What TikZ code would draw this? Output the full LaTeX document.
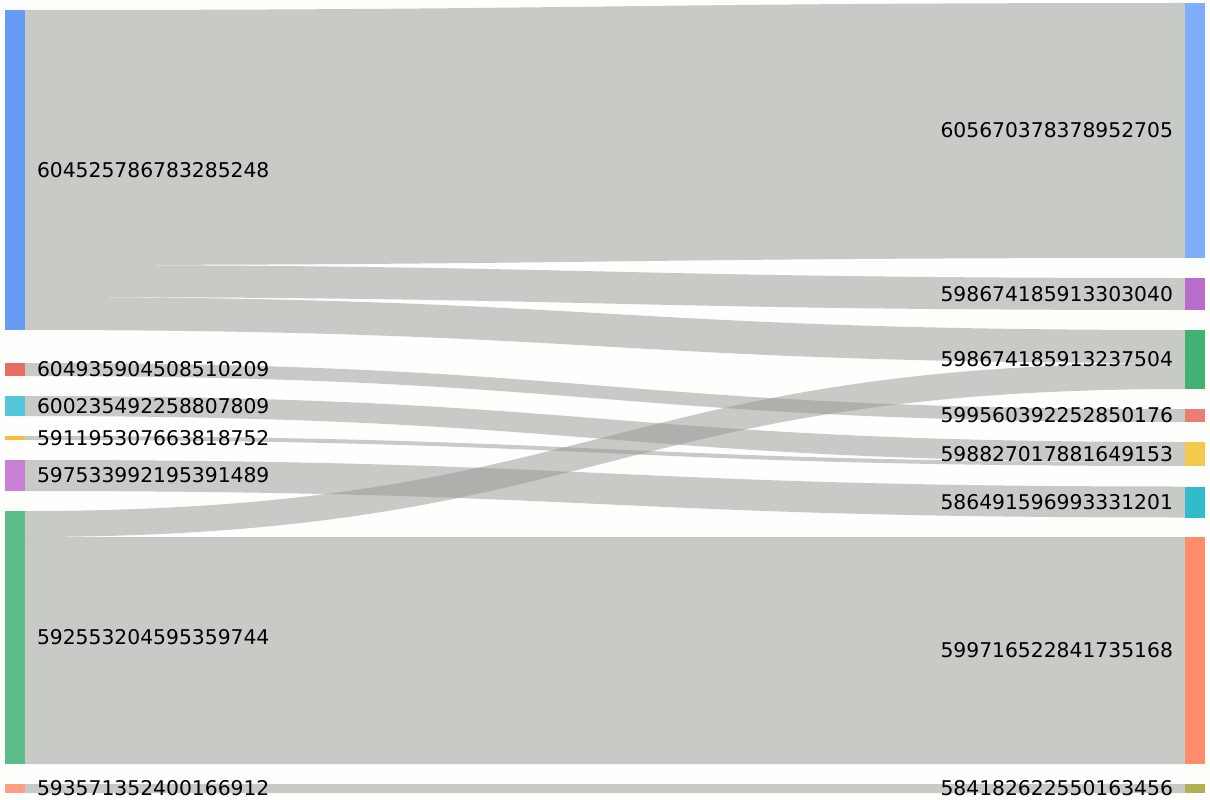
\documentclass[tikz,border=0pt]{standalone}
\usepackage{fontspec}
\setmainfont{DejaVu Sans}
\usetikzlibrary{calc}
\definecolor{bgc}{RGB}{254,254,252}
\definecolor{linkc}{RGB}{147,151,145}
\definecolor{cA}{HTML}{679CF6}
\definecolor{cB}{HTML}{E56D62}
\definecolor{cC}{HTML}{55C7DA}
\definecolor{cD}{HTML}{F7C03C}
\definecolor{cE}{HTML}{C882D3}
\definecolor{cF}{HTML}{5CBD8B}
\definecolor{cG}{HTML}{FF9E84}
\definecolor{cR1}{HTML}{7EAEFB}
\definecolor{cR2}{HTML}{B86DCB}
\definecolor{cR3}{HTML}{41B174}
\definecolor{cR4}{HTML}{EA7E74}
\definecolor{cR5}{HTML}{F5C94C}
\definecolor{cR6}{HTML}{30BCCB}
\definecolor{cR7}{HTML}{FF8C69}
\definecolor{cR8}{HTML}{B0B251}
\tikzset{
  bar/.style={rectangle, draw=none, inner sep=0pt, outer sep=0pt, minimum width=20pt},
  linkfill/.style={fill=linkc, fill opacity=0.5, draw=none},
  lbl/.style={inner sep=0pt, outer sep=0pt, font=\fontsize{20.3}{24}\selectfont, text=black},
}
% source, source offset, target, target offset, thickness
\newcommand\sklink[5]{%
  \path[linkfill]
    ($(#1.north east)+(0,#2)$) .. controls +(580,0) and +(-580,0) ..
    ($(#3.north west)+(0,#4)$) --
    ($(#3.north west)+(0,#4+#5)$) .. controls +(-580,0) and +(580,0) ..
    ($(#1.north east)+(0,#2+#5)$) -- cycle;}
\begin{document}
\begin{tikzpicture}[x=1pt,y=-1pt]
\fill[bgc] (0,0) rectangle (1210,800);
\useasboundingbox (0,0) rectangle (1210,800);
% left nodes
\node[bar, fill=cA, minimum height=320pt] (A) at (15,170) {};
\node[bar, fill=cB, minimum height=13pt] (B) at (15,369.5) {};
\node[bar, fill=cC, minimum height=20pt] (C) at (15,406) {};
\node[bar, fill=cD, minimum height=4pt] (D) at (15,438) {};
\node[bar, fill=cE, minimum height=31pt] (E) at (15,475.5) {};
\node[bar, fill=cF, minimum height=253pt] (F) at (15,637.5) {};
\node[bar, fill=cG, minimum height=9pt] (G) at (15,788.5) {};
% right nodes
\node[bar, fill=cR1, minimum height=255pt] (R1) at (1195,130.5) {};
\node[bar, fill=cR2, minimum height=32pt] (R2) at (1195,294) {};
\node[bar, fill=cR3, minimum height=59pt] (R3) at (1195,359.5) {};
\node[bar, fill=cR4, minimum height=13pt] (R4) at (1195,415.5) {};
\node[bar, fill=cR5, minimum height=24pt] (R5) at (1195,454) {};
\node[bar, fill=cR6, minimum height=31pt] (R6) at (1195,502) {};
\node[bar, fill=cR7, minimum height=227pt] (R7) at (1195,650.5) {};
\node[bar, fill=cR8, minimum height=9pt] (R8) at (1195,788.5) {};
% links
\sklink{A}{0}{R1}{0}{255}
\sklink{A}{255}{R2}{0}{32}
\sklink{A}{287}{R3}{0}{33}
\sklink{B}{0}{R4}{0}{13}
\sklink{C}{0}{R5}{0}{20}
\sklink{D}{0}{R5}{20}{4}
\sklink{E}{0}{R6}{0}{31}
\sklink{F}{0}{R3}{33}{26}
\sklink{F}{26}{R7}{0}{227}
\sklink{G}{0}{R8}{0}{9}
% redraw nodes on top
\foreach \n/\c in {A/cA,B/cB,C/cC,D/cD,E/cE,F/cF,G/cG,R1/cR1,R2/cR2,R3/cR3,R4/cR4,R5/cR5,R6/cR6,R7/cR7,R8/cR8}
  \fill[\c] (\n.north west) rectangle (\n.south east);
% labels
\node[lbl, anchor=west] (lA) at ([xshift=12pt]A.east) {604525786783285248};
\node[lbl, anchor=west] (lB) at ([xshift=12pt]B.east) {604935904508510209};
\node[lbl, anchor=west] (lC) at ([xshift=12pt]C.east) {600235492258807809};
\node[lbl, anchor=west] (lD) at ([xshift=12pt]D.east) {591195307663818752};
\node[lbl, anchor=west] (lE) at ([xshift=12pt]E.east) {597533992195391489};
\node[lbl, anchor=west] (lF) at ([xshift=12pt]F.east) {592553204595359744};
\node[lbl, anchor=west] (lG) at ([xshift=12pt]G.east) {593571352400166912};
\node[lbl, anchor=east] (lR1) at ([xshift=-12pt]R1.west) {605670378378952705};
\node[lbl, anchor=east] (lR2) at ([xshift=-12pt]R2.west) {598674185913303040};
\node[lbl, anchor=east] (lR3) at ([xshift=-12pt]R3.west) {598674185913237504};
\node[lbl, anchor=east] (lR4) at ([xshift=-12pt]R4.west) {599560392252850176};
\node[lbl, anchor=east] (lR5) at ([xshift=-12pt]R5.west) {598827017881649153};
\node[lbl, anchor=east] (lR6) at ([xshift=-12pt]R6.west) {586491596993331201};
\node[lbl, anchor=east] (lR7) at ([xshift=-12pt]R7.west) {599716522841735168};
\node[lbl, anchor=east] (lR8) at ([xshift=-12pt]R8.west) {584182622550163456};
\end{tikzpicture}
\end{document}
